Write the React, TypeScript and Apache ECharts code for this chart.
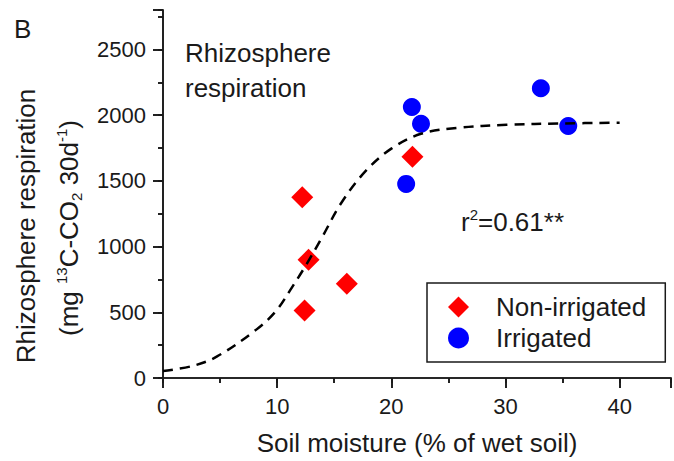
import React, { useEffect, useRef } from "react";
import * as echarts from "echarts";

const seriesNames = ["Non-irrigated", "Irrigated"];
const nonIrrigated: number[][] = [
  [12.2, 1375],
  [12.75, 899],
  [12.4, 513],
  [16.1, 717],
  [21.85, 1684],
];
const irrigated: number[][] = [
  [21.8, 2062],
  [22.6, 1934],
  [21.3, 1477],
  [33.1, 2205],
  [35.5, 1918],
];
const fitCurve: number[][] = [
  [0, 53], [2.6, 92], [4.7, 162], [8.2, 370], [9.9, 510], [11.3, 690],
  [12.5, 855], [13.9, 1065], [15.6, 1330], [17.7, 1570], [20, 1745],
  [22.6, 1858], [25.8, 1903], [30.1, 1926], [35, 1937], [40, 1942],
];
const xMin = 0, xMax = 44.5, xMajor = 10, xMinor = 5;
const yMin = 0, yMax = 2800, yMajor = 500, yMinor = 250;
const xTitle = "Soil moisture (% of wet soil)";
const yTitle1 = "Rhizosphere respiration";
const yTitle2 = "(mg {sup|13}C-CO{sub|2} 30d{sup|-1})";
const panelLabel = "B";
const innerLabel = ["Rhizosphere", "respiration"];
const statLabel = "r{sup|2}=0.61**";

const FONT = "'Liberation Sans', Arial, Helvetica, sans-serif";
const INK = "#1a1a1a";

function App() {
  const ref = useRef<HTMLDivElement>(null);
  useEffect(() => {
    if (!ref.current) return;
    const chart = echarts.init(ref.current, undefined, { renderer: "svg" });
    const lineStyle = { color: INK, width: 1.6 };
    const mkX = (pos: string, interval: number, major: boolean, inside: boolean, labels: boolean) => ({
      type: "value",
      position: pos,
      min: xMin,
      max: xMax,
      interval,
      axisLine: { show: major, lineStyle },
      axisTick: { show: true, inside, length: major ? 10 : 5, lineStyle },
      axisLabel: {
        show: labels,
        fontSize: 22,
        fontFamily: FONT,
        color: INK,
        margin: 17,
        formatter: (v: number) => (v % 10 === 0 ? String(v) : ""),
      },
      splitLine: { show: false },
      ...(labels
        ? {
            name: xTitle,
            nameLocation: "middle",
            nameGap: 52,
            nameTextStyle: { fontSize: 26, fontFamily: FONT, color: INK },
          }
        : {}),
    });
    const mkY = (pos: string, interval: number, major: boolean, inside: boolean, labels: boolean) => ({
      type: "value",
      position: pos,
      min: yMin,
      max: yMax,
      interval,
      axisLine: { show: major, lineStyle },
      axisTick: { show: true, inside, length: major ? 10 : 5, lineStyle },
      axisLabel: {
        show: labels,
        fontSize: 22,
        fontFamily: FONT,
        color: INK,
        margin: 17,
        formatter: (v: number) => (v % 500 === 0 ? String(v) : ""),
      },
      splitLine: { show: false },
    });
    chart.setOption({
      animation: false,
      backgroundColor: "#ffffff",
      grid: { left: 163, top: 10, right: -2, bottom: 80, containLabel: false },
      xAxis: [
        mkX("bottom", xMajor, true, false, true),
        mkX("bottom", xMinor, false, false, false),
        mkX("top", xMajor, true, true, false),
        mkX("top", xMinor, false, true, false),
      ],
      yAxis: [
        mkY("left", yMajor, true, false, true),
        mkY("left", yMinor, false, false, false),
        mkY("right", yMajor, true, true, false),
        mkY("right", yMinor, false, true, false),
      ],
      legend: {
        data: seriesNames,
        orient: "vertical",
        left: 427,
        top: 283,
        padding: [11, 19, 11, 21],
        itemWidth: 21,
        itemHeight: 21,
        itemGap: 5,
        borderColor: INK,
        borderWidth: 1.5,
        backgroundColor: "#fff",
        textStyle: {
          fontSize: 26,
          lineHeight: 26,
          fontFamily: FONT,
          color: INK,
          padding: [0, 0, 0, 22],
        },
      },
      series: [
        {
          name: seriesNames[0],
          type: "scatter",
          symbol: "diamond",
          symbolSize: 22,
          itemStyle: { color: "#ff0000", opacity: 1 },
          data: nonIrrigated,
          z: 2,
        },
        {
          name: seriesNames[1],
          type: "scatter",
          symbol: "circle",
          symbolSize: 18,
          itemStyle: { color: "#0000ff", opacity: 1 },
          data: irrigated,
          z: 2,
        },
        {
          name: "fit",
          type: "line",
          data: fitCurve,
          smooth: 0.35,
          symbol: "none",
          lineStyle: { color: "#000", width: 2.5, type: [10, 7] },
          z: 3,
        },
      ],
      graphic: [
        {
          type: "text",
          x: 14,
          y: 29,
          style: { text: panelLabel, fontSize: 26, fontFamily: FONT, fill: INK, verticalAlign: "middle" },
        },
        {
          type: "text",
          x: 185,
          y: 53,
          style: { text: innerLabel[0], fontSize: 26, fontFamily: FONT, fill: INK, verticalAlign: "middle" },
        },
        {
          type: "text",
          x: 185,
          y: 88,
          style: { text: innerLabel[1], fontSize: 26, fontFamily: FONT, fill: INK, verticalAlign: "middle" },
        },
        {
          type: "text",
          x: 461,
          y: 222,
          style: {
            text: statLabel,
            fontSize: 26,
            lineHeight: 30,
            fontFamily: FONT,
            fill: INK,
            verticalAlign: "middle",
            rich: {
              sup: { fontSize: 15, lineHeight: 15, verticalAlign: "top", fontFamily: FONT, fill: INK },
            },
          },
        },
        {
          type: "text",
          x: 26,
          y: 226,
          rotation: Math.PI / 2,
          style: {
            text: yTitle1,
            fontSize: 26,
            fontFamily: FONT,
            fill: INK,
            align: "center",
            verticalAlign: "middle",
          },
        },
        {
          type: "text",
          x: 69,
          y: 228,
          rotation: Math.PI / 2,
          style: {
            text: yTitle2,
            fontSize: 26,
            lineHeight: 30,
            fontFamily: FONT,
            fill: INK,
            align: "center",
            verticalAlign: "middle",
            rich: {
              sup: { fontSize: 15, lineHeight: 15, verticalAlign: "top", fontFamily: FONT, fill: INK },
              sub: { fontSize: 15, lineHeight: 15, verticalAlign: "bottom", fontFamily: FONT, fill: INK },
            },
          },
        },
      ],
    });
    return () => chart.dispose();
  }, []);
  return (
    <div
      ref={ref}
      style={{ position: "fixed", left: 0, top: 0, width: 674, height: 461, background: "#fff" }}
    />
  );
}

export default App;
